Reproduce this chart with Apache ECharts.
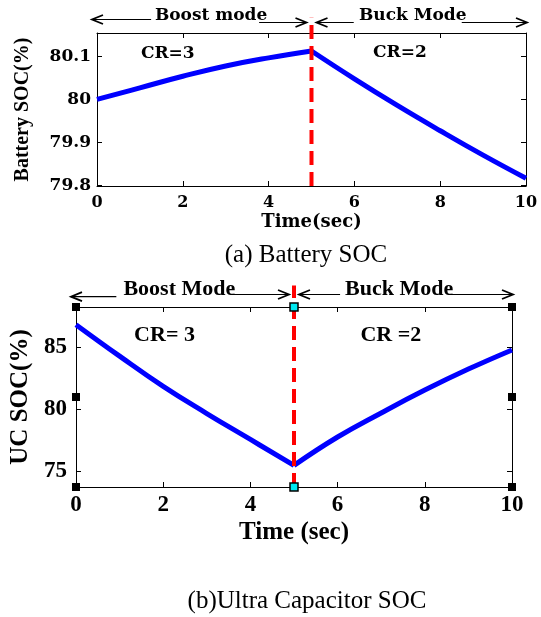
<!DOCTYPE html>
<html><head><meta charset="utf-8">
<script src="https://cdn.jsdelivr.net/npm/echarts@6/dist/echarts.min.js"></script>
<style>html,body{margin:0;padding:0;background:#fff}#c{width:541px;height:617px}</style>
</head><body><div id="c"></div>
<script>
// ---- data ----
const timeSec = [0,1,2,3,4,5,6,7,8,9,10];
const batterySoc = [80.000,80.027,80.054,80.078,80.097,80.113,80.048,79.986,79.927,79.870,79.816];
const ucSoc = [86.85,84.30,81.85,79.65,77.55,75.45,77.75,79.70,81.55,83.25,84.80];
const switchTime = 5;
const xTicks = [0,2,4,6,8,10];
const batteryTicks = [79.8,79.9,80,80.1];
const ucTicks = [75,80,85];
const batteryRange = [79.798, 80.155];
const ucRange = [73.7, 88.28];
const modeLabelsBattery = ['Boost mode','Buck Mode'];
const modeLabelsUC = ['Boost Mode','Buck Mode'];
const crLabelsBattery = ['CR=3','CR=2'];
const crLabelsUC = ['CR= 3','CR =2'];
const captions = ['(a) Battery SOC','(b)Ultra Capacitor SOC'];
const axisNames = {batteryY:'Battery SOC(%)', batteryX:'Time(sec)', ucY:'UC SOC(%)', ucX:'Time (sec)'};

const FT = '"DejaVu Serif"';
const FB = '"Liberation Serif"';

function pairs(xs, ys){ return xs.map((x,i)=>[x, ys[i]]); }
const iSw = timeSec.indexOf(switchTime);
const batPairs = pairs(timeSec, batterySoc);
const ucPairs = pairs(timeSec, ucSoc);

function xAxisPair(grid, font, size, gap, name, nameFont, nameSize){
  return [
    {type:'value', gridIndex:grid, position:'bottom', min:0, max:10,
     axisLine:{show:true,onZero:false,lineStyle:{color:'#000',width:1}},
     axisTick:{show:true,inside:true,length:5,customValues:xTicks,lineStyle:{color:'#000'}},
     axisLabel:{show:true,customValues:xTicks,margin:gap,color:'#000',fontFamily:font,fontWeight:'bold',fontSize:size},
     splitLine:{show:false},
     name:name,nameLocation:'middle',nameGap:0,
     nameTextStyle:{color:'#000',fontFamily:nameFont,fontWeight:'bold',fontSize:nameSize}},
    {type:'value', gridIndex:grid, position:'top', min:0, max:10,
     axisLine:{show:true,onZero:false,lineStyle:{color:'#000',width:1}},
     axisTick:{show:true,inside:true,length:5,customValues:xTicks,lineStyle:{color:'#000'}},
     axisLabel:{show:false}, splitLine:{show:false}}
  ];
}
function yAxisPair(grid, range, ticks, font, size, margin, name, nameFont, nameSize, nameGap){
  return [
    {type:'value', gridIndex:grid, position:'left', min:range[0], max:range[1],
     axisLine:{show:true,onZero:false,lineStyle:{color:'#000',width:1}},
     axisTick:{show:true,inside:true,length:5,customValues:ticks,lineStyle:{color:'#000'}},
     axisLabel:{show:true,customValues:ticks,margin:margin,color:'#000',fontFamily:font,fontWeight:'bold',fontSize:size},
     splitLine:{show:false},
     name:name,nameLocation:'middle',nameGap:nameGap,nameRotate:90,
     nameTextStyle:{color:'#000',fontFamily:nameFont,fontWeight:'bold',fontSize:nameSize}},
    {type:'value', gridIndex:grid, position:'right', min:range[0], max:range[1],
     axisLine:{show:true,onZero:false,lineStyle:{color:'#000',width:1}},
     axisTick:{show:true,inside:true,length:5,customValues:ticks,lineStyle:{color:'#000'}},
     axisLabel:{show:false}, splitLine:{show:false}}
  ];
}

const xa0 = xAxisPair(0, FT, 16, 9, axisNames.batteryX, FT, 18);
xa0[0].nameGap = 27;
const xa1 = xAxisPair(1, FB, 23, 7, axisNames.ucX, FB, 25);
xa1[0].nameGap = 33;
const ya0 = yAxisPair(0, batteryRange, batteryTicks, FT, 17, 6, axisNames.batteryY, FB, 20, 64);
const ya1 = yAxisPair(1, ucRange, ucTicks, FB, 23, 9, axisNames.ucY, FB, 25, 43);

function curve(data, xi, yi){
  return {type:'line', xAxisIndex:xi, yAxisIndex:yi, data:data, smooth:0.45, symbol:'none',
    lineStyle:{color:'#0000ff', width:5}, z:3, animation:false};
}
function redLine(xi, yi, range, ext){
  return {type:'line', xAxisIndex:xi, yAxisIndex:yi, clip:false, symbol:'none', z:4, animation:false,
    data:[[switchTime, range[0]],[switchTime, range[1] + (range[1]-range[0])*ext]],
    lineStyle:{color:'#ff0000', width:4, type:[14,7]}};
}
const ucMid = (ucRange[0]+ucRange[1])/2;

const chart = echarts.init(document.getElementById('c'), null, {renderer:'canvas'});
chart.setOption({
  animation:false,
  backgroundColor:'#fff',
  grid:[
    {left:97, top:33, width:429, height:153},
    {left:76, top:307, width:436, height:180}
  ],
  xAxis:[xa0[0], xa0[1], xa1[0], xa1[1]],
  yAxis:[ya0[0], ya0[1], ya1[0], ya1[1]],
  series:[
    curve(batPairs.slice(0, iSw+1), 0, 0),
    curve(batPairs.slice(iSw), 0, 0),
    redLine(0, 0, batteryRange, 0.1),
    curve(ucPairs.slice(0, iSw+1), 2, 2),
    curve(ucPairs.slice(iSw), 2, 2),
    redLine(2, 2, ucRange, 0.12),
    {type:'scatter', xAxisIndex:2, yAxisIndex:2, clip:false, symbol:'rect', symbolSize:8, z:6, animation:false,
     itemStyle:{color:'#000', opacity:1},
     data:[[0,ucRange[0]],[0,ucMid],[0,ucRange[1]],[10,ucRange[0]],[10,ucMid],[10,ucRange[1]]]},
    {type:'scatter', xAxisIndex:2, yAxisIndex:2, clip:false, symbol:'rect', symbolSize:8, z:6, animation:false,
     itemStyle:{color:'#00e8f0', borderColor:'#000', borderWidth:1.5, opacity:1},
     data:[[switchTime,ucRange[0]],[switchTime,ucRange[1]]]}
  ]
});

// ---- annotations (text + arrows) positioned through the chart's own scales ----
function P(g, x, y){ return chart.convertToPixel({gridIndex:g}, [x, y]); }
const G = [];
function txt(x, y, t, font, align){
  G.push({type:'text', x:x, y:y, z:10, style:{text:t, font:font, fill:'#000',
    textAlign:align||'center', align:align||'center', textVerticalAlign:'middle', verticalAlign:'middle'}});
}
function seg(x1, x2, y){
  G.push({type:'line', z:9, shape:{x1:x1,y1:y,x2:x2,y2:y}, style:{stroke:'#000', lineWidth:1.2}});
}
function head(tip, y, dir){ // dir=-1 points left, +1 points right
  G.push({type:'polyline', z:9, shape:{points:[[tip-dir*11, y-4.5],[tip, y],[tip-dir*11, y+4.5]]},
    style:{stroke:'#000', lineWidth:1.8, fill:null}});
}
function modeArrows(g, range, labels, font, yL, yR, textY, textX, halfW){
  const top = P(g, 0, range[1])[1];
  const x0 = P(g, 0, range[1])[0], x5 = P(g, switchTime, range[1])[0], x10 = P(g, 10, range[1])[0];
  const tB = P(g, textX[0], range[1])[0], tK = P(g, textX[1], range[1])[0];
  // boost
  seg(x0-5, tB-halfW[0]-2, top+yL); head(x0-5, top+yL, -1);
  seg(tB+halfW[0]-10, x5-5, top+yR); head(x5-5, top+yR, 1);
  // buck
  seg(x5+5, tK-halfW[1]-2, top+yR); head(x5+5, top+yR, -1);
  seg(tK+halfW[1]-8, x10+1, top+yR); head(x10+1, top+yR, 1);
  txt(tB, top+textY, labels[0], font);
  txt(tK, top+textY, labels[1], font);
}
modeArrows(0, batteryRange, modeLabelsBattery, 'bold 17px '+FT, -13.5, -10.5, -17, [2.66, 7.36], [58, 57]);
modeArrows(1, ucRange, modeLabelsUC, 'bold 22px '+FB, -10.3, -12.5, -18, [2.37, 7.41], [61, 57]);

// CR labels
let p = P(0, 1.65, 80.107); txt(p[0], p[1], crLabelsBattery[0], 'bold 17px '+FT);
p = P(0, 7.06, 80.110); txt(p[0], p[1], crLabelsBattery[1], 'bold 17px '+FT);
p = P(1, 2.03, 86.0); txt(p[0], p[1], crLabelsUC[0], 'bold 22px '+FB);
p = P(1, 7.22, 85.95); txt(p[0], p[1], crLabelsUC[1], 'bold 22px '+FB);

// captions
txt(306, 255, captions[0], '25px '+FB);
txt(307, 601, captions[1], '25px '+FB);

chart.setOption({graphic:G});
</script>
</body></html>
